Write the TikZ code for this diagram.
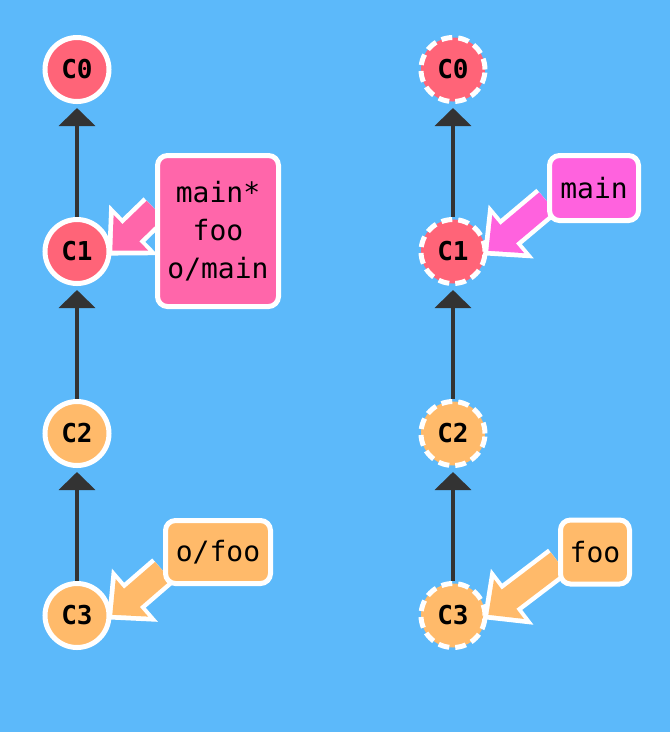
\documentclass[tikz,border=0pt]{standalone}
\usepackage{fontspec}
\setmonofont{DejaVu Sans Mono}
\usetikzlibrary{arrows.meta, matrix, backgrounds}

\pgfdeclarelayer{front}
\pgfsetlayers{background,main,front}

\definecolor{bgblue}{HTML}{5CB9FA}
\definecolor{commitred}{HTML}{FF6478}
\definecolor{commitorange}{HTML}{FFBA6A}
\definecolor{branchpink}{HTML}{FF66AA}
\definecolor{branchmagenta}{HTML}{FF62DE}
\definecolor{edgegray}{HTML}{333333}

\begin{document}
\begin{tikzpicture}[x=1pt, y=-1pt,
            commit/.style={circle, draw=white, line width=5pt, minimum size=64pt, inner sep=0pt,
                font=\ttfamily\bfseries\fontsize{26}{26}\selectfont},
            commit dashed/.style={commit, dash pattern=on 11pt off 6pt},
            branch/.style={draw=white, line width=5pt, rounded corners=10pt, align=center,
                font=\ttfamily\fontsize{28}{38}\selectfont},
            parent edge/.style={edgegray, line width=4pt, -{Triangle[width=36pt, length=18pt]}, shorten >=4pt},
            branch outline/.style={white, line width=33pt, -{Triangle[width=68pt, length=37pt]}, shorten >=-6pt},
            branch arrow/.style={#1, line width=24pt, -{Triangle[width=48pt, length=26pt]}, shorten >=1pt}]

            \matrix[matrix of nodes, row sep=113pt, column sep=307pt, nodes={commit},
                    column 2/.style={nodes={commit dashed}},
                    row 1/.style={nodes={fill=commitred}}, row 2/.style={nodes={fill=commitred}},
                    row 3/.style={nodes={fill=commitorange}}, row 4/.style={nodes={fill=commitorange}}]
                    (m) at (265,342.5) {
                C0 & C0 \\
                C1 & C1 \\
                C2 & C2 \\
                C3 & C3 \\
            };

            % Branch labels
            \begin{pgfonlayer}{front}
                \node[branch, fill=branchpink, minimum width=121pt, minimum height=151pt] (lmain) at (218,231) {main*\\foo\\o/main};
                \node[branch, fill=branchmagenta, minimum width=89pt, minimum height=65pt] (rmain) at (594,188) {main};
                \node[branch, fill=commitorange, minimum width=105pt, minimum height=63pt] (lfoo) at (218,552) {o/foo};
                \node[branch, fill=commitorange, minimum width=69pt, minimum height=64pt] (rfoo) at (595,552) {foo};
            \end{pgfonlayer}

            % Branch arrows, white rim first
            \foreach \b/\a/\t/\col in {lmain/161/m-2-1/branchpink, rmain/196/m-2-2/branchmagenta,
                                       lfoo/199/m-4-1/commitorange, rfoo/195/m-4-2/commitorange} {
                \draw[branch outline] (\b.\a) -- (\t.east);
                \draw[branch arrow=\col] (\b.\a) -- (\t.east);
            }

            \begin{scope}[on background layer]
                \fill[bgblue] (0,0) rectangle (670,732);

                % Parent arrows
                \foreach \c in {1,2} {
                    \foreach \i/\j in {2/1,3/2,4/3} {
                        \draw[parent edge] (m-\i-\c) -- (m-\j-\c);
                    }
                }
            \end{scope}
        \end{tikzpicture}
\end{document}
